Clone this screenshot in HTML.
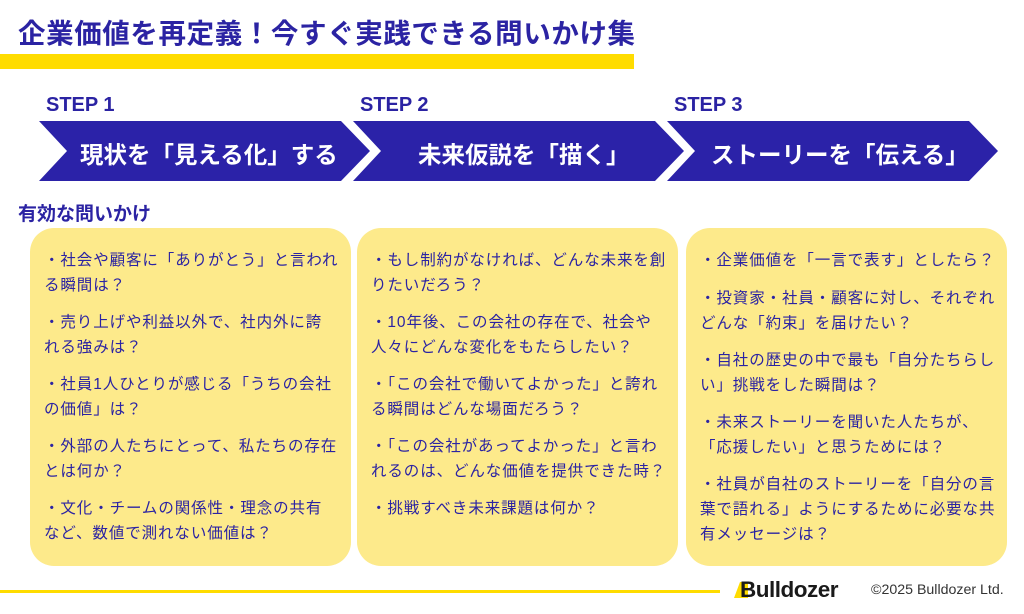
<!DOCTYPE html>
<html><head><meta charset="utf-8"><style>
*{margin:0;padding:0;box-sizing:border-box}
body{width:1024px;height:614px;background:#fff;position:relative;overflow:hidden;font-family:"Liberation Sans","Noto Sans CJK JP",sans-serif;color:#2b23a3}
.abs{position:absolute;white-space:nowrap}
.title{left:18px;top:11px;font-size:27.5px;font-weight:bold;letter-spacing:0.6px}
.bar{left:0;top:54px;width:634px;height:15px;background:#ffdc00}
.step{font-size:20px;font-weight:bold;top:94px}
.sec{left:18px;top:199px;font-size:19px;font-weight:bold}
.card{position:absolute;top:228px;height:338px;background:#fdea8b;border-radius:24px}
.card p{position:absolute;left:14px;font-size:15.5px;line-height:25px;letter-spacing:0.9px;white-space:nowrap}
.chev{position:absolute;color:#fff;font-size:23.5px;font-weight:bold;top:136px}
</style></head><body>
<div class="abs title">企業価値を再定義！今すぐ実践できる問いかけ集</div>
<div class="abs bar"></div>
<div class="abs step" style="left:46px">STEP 1</div>
<div class="abs step" style="left:360px">STEP 2</div>
<div class="abs step" style="left:674px">STEP 3</div>
<svg class="abs" style="left:0;top:0" width="1024" height="200">
<polygon points="39,121 341,121 370,151 341,181 39,181 67,151" fill="#2b22a8"/>
<polygon points="353,121 655,121 684,151 655,181 353,181 381,151" fill="#2b22a8"/>
<polygon points="667,121 969,121 998,151 969,181 667,181 695,151" fill="#2b22a8"/>
</svg>
<div class="chev" style="left:80px">現状を「見える化」する</div>
<div class="chev" style="left:418px">未来仮説を「描く」</div>
<div class="chev" style="left:711px">ストーリーを「伝える」</div>
<div class="abs sec">有効な問いかけ</div>
<div class="card" style="left:30px;width:321px">
<p style="top:20px">・社会や顧客に「ありがとう」と言われ<br>る瞬間は？</p>
<p style="top:82px">・売り上げや利益以外で、社内外に誇<br>れる強みは？</p>
<p style="top:144px">・社員1人ひとりが感じる「うちの会社<br>の価値」は？</p>
<p style="top:206px">・外部の人たちにとって、私たちの存在<br>とは何か？</p>
<p style="top:268px">・文化・チームの関係性・理念の共有<br>など、数値で測れない価値は？</p>
</div>
<div class="card" style="left:357px;width:321px">
<p style="top:20px">・もし制約がなければ、どんな未来を創<br>りたいだろう？</p>
<p style="top:82px">・10年後、この会社の存在で、社会や<br>人々にどんな変化をもたらしたい？</p>
<p style="top:144px">・「この会社で働いてよかった」と誇れ<br>る瞬間はどんな場面だろう？</p>
<p style="top:206px">・「この会社があってよかった」と言わ<br>れるのは、どんな価値を提供できた時？</p>
<p style="top:268px">・挑戦すべき未来課題は何か？</p>
</div>
<div class="card" style="left:686px;width:321px">
<p style="top:20px">・企業価値を「一言で表す」としたら？</p>
<p style="top:58px">・投資家・社員・顧客に対し、それぞれ<br>どんな「約束」を届けたい？</p>
<p style="top:120px">・自社の歴史の中で最も「自分たちらし<br>い」挑戦をした瞬間は？</p>
<p style="top:182px">・未来ストーリーを聞いた人たちが、<br>「応援したい」と思うためには？</p>
<p style="top:244px">・社員が自社のストーリーを「自分の言<br>葉で語れる」ようにするために必要な共<br>有メッセージは？</p>
</div>
<div class="abs" style="left:0;top:590px;width:720px;height:3px;background:#ffdc00"></div>
<svg class="abs" style="left:734px;top:580px" width="14" height="20"><polygon points="6,2 14,2 14,18 0,18" fill="#ffdc00"/></svg>
<div class="abs" style="left:740px;top:577px;font-size:22.5px;font-weight:bold;color:#1a1a1a;letter-spacing:-0.5px">Bulldozer</div>
<div class="abs" style="left:871px;top:582px;font-size:14.2px;color:#333">©2025 Bulldozer Ltd.</div>
</body></html>
